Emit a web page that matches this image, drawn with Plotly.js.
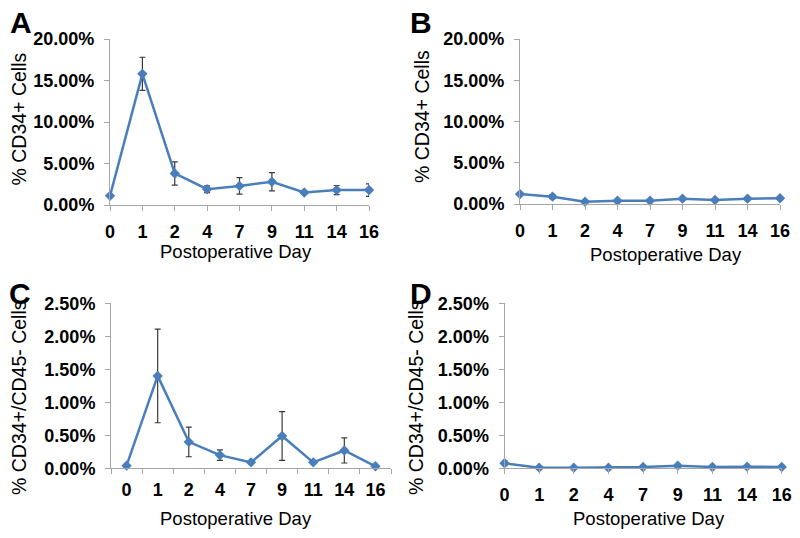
<!DOCTYPE html>
<html>
<head>
<meta charset="utf-8">
<script src="https://cdn.plot.ly/plotly-3.0.1.min.js"></script>
<style>
  html, body { margin: 0; padding: 0; background: #fff; }
  #chart { width: 800px; height: 538px; }
</style>
</head>
<body>
<div id="chart"></div>
<script>
// postoperative days (categories)
const days = ["0", "1", "2", "4", "7", "9", "11", "14", "16"];

// A: % CD34+ cells, group 1
const cd34A = [1.1, 15.8, 3.8, 1.9, 2.3, 2.8, 1.5, 1.8, 1.8];
const cd34Aerr = [0.2, 2.0, 1.4, 0.4, 1.0, 1.1, 0.2, 0.55, 0.75];

// B: % CD34+ cells, group 2
const cd34B = [1.2, 0.89, 0.28, 0.4, 0.4, 0.65, 0.48, 0.65, 0.69];
const cd34Berr = [0.15, 0.25, 0.1, 0.1, 0.1, 0.1, 0.1, 0.1, 0.1];

// C: % CD34+/CD45- cells, group 1
const dblC = [0.04, 1.40, 0.40, 0.20, 0.09, 0.49, 0.09, 0.27, 0.03];
const dblCerr = [0.01, 0.71, 0.225, 0.08, 0.02, 0.37, 0.02, 0.19, 0.01];

// D: % CD34+/CD45- cells, group 2
const dblD = [0.076, 0.01, 0.01, 0.01, 0.02, 0.04, 0.02, 0.025, 0.02];
const dblDerr = [0.035, 0.005, 0.005, 0.005, 0.01, 0.02, 0.01, 0.01, 0.01];

const BLUE = "#4a7ebb";
const GREY = "#a6a6a6";
const FONT = "Liberation Sans, Arial, sans-serif";

function series(y, err, xa, ya)
{
    return { x : days, y : y,
	     xaxis : xa, yaxis : ya,
	     type : "scatter", mode : "lines+markers",
	     cliponaxis : false,
	     line : { color : BLUE, width : 2.5 },
	     marker : { symbol : "diamond", size : 8, color : BLUE },
	     error_y : { type : "data", array : err, visible : true,
			 color : "#3a3a3a", thickness : 1.2, width : 3 },
	     hoverinfo : "skip", showlegend : false };
}

const data = [
    series(cd34A, cd34Aerr, "x", "y"),
    series(cd34B, cd34Berr, "x2", "y2"),
    series(dblC, dblCerr, "x3", "y3"),
    series(dblD, dblDerr, "x4", "y4")
];

function xax(dom, anchor, between)
{
    return { domain : dom, anchor : anchor, type : "category",
	     range : between ? [-0.5, 8.5] : [0, 8],
	     tickson : between ? "boundaries" : "labels",
	     showline : true, linecolor : GREY, linewidth : 1,
	     ticks : "outside", ticklen : 5, tickcolor : GREY,
	     showgrid : false, zeroline : false, fixedrange : true,
	     ticklabelstandoff : 5,
	     tickfont : { family : FONT, size : 18, color : "#000", weight : "bold" } };
}

function yax(dom, anchor, top, step)
{
    return { domain : dom, anchor : anchor,
	     range : [0, top], dtick : step, tick0 : 0,
	     tickformat : ".2f", ticksuffix : "%",
	     showline : true, linecolor : GREY, linewidth : 1,
	     ticks : "outside", ticklen : 5, tickcolor : GREY,
	     showgrid : false, zeroline : false, fixedrange : true,
	     ticklabelstandoff : 6,
	     tickfont : { family : FONT, size : 18, color : "#000", weight : "bold" } };
}

function px(v) { return v / 800; }
function py(v) { return 1 - v / 538; }

function label(txt, x, y, size, angle, bold)
{
    return { text : txt, xref : "paper", yref : "paper",
	     x : px(x), y : py(y), xanchor : "center", yanchor : "middle",
	     showarrow : false, textangle : angle || 0,
	     font : { family : FONT, size : size, color : "#000",
		      weight : bold ? "bold" : "normal" } };
}

const layout = {
    width : 800, height : 538,
    margin : { l : 0, r : 0, t : 0, b : 0 },
    paper_bgcolor : "#fff", plot_bgcolor : "#fff",
    xaxis  : xax([px(110), px(369)], "y", false),
    yaxis  : yax([py(205), py(39)], "x", 20, 5),
    xaxis2 : xax([px(520), px(780)], "y2", false),
    yaxis2 : yax([py(204), py(39)], "x2", 20, 5),
    xaxis3 : xax([px(111), px(391)], "y3", true),
    yaxis3 : yax([py(468.3), py(303.3)], "x3", 2.5, 0.5),
    xaxis4 : xax([px(504.5), px(781.7)], "y4", false),
    yaxis4 : yax([py(468.3), py(303.3)], "x4", 2.5, 0.5),
    annotations : [
	label("A", 20.5, 23, 30, 0, true),
	label("B", 420.5, 23, 30, 0, true),
	label("C", 20, 293.5, 30, 0, true),
	label("D", 420.5, 293.5, 30, 0, true),
	label("% CD34+ Cells", 18.5, 119, 19.5, -90),
	label("% CD34+ Cells", 422, 117, 19.5, -90),
	label("% CD34+/CD45- Cells", 18.5, 397.5, 19.5, -90),
	label("% CD34+/CD45- Cells", 415.5, 397.5, 19.5, -90),
	label("Postoperative Day", 235.5, 252, 18.5),
	label("Postoperative Day", 665.5, 254, 18.5),
	label("Postoperative Day", 236, 518, 18.5),
	label("Postoperative Day", 649, 518, 18.5)
    ]
};

Plotly.newPlot("chart", data, layout, { staticPlot : true, displayModeBar : false });
</script>
</body>
</html>
